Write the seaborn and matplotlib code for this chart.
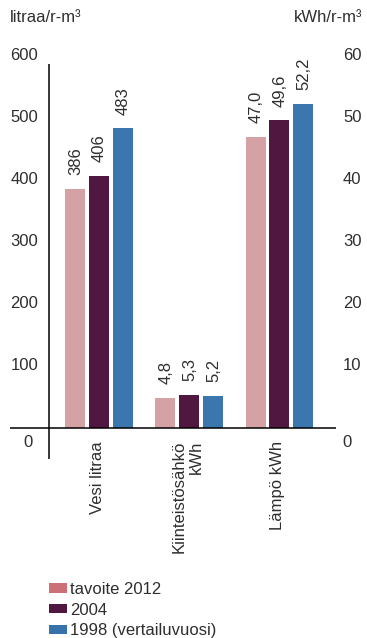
import matplotlib
matplotlib.use("Agg")
import matplotlib.pyplot as plt
from matplotlib.patches import Patch
from matplotlib.transforms import blended_transform_factory
import pandas as pd
import seaborn as sns

# Consumption per building volume (r-m3)
categories = ["Vesi litraa", "Kiinteistösähkö\nkWh", "Lämpö kWh"]
series = ["tavoite 2012", "2004", "1998 (vertailuvuosi)"]
# water in litres, electricity and heat in kWh (right-hand scale)
vesi = [386, 406, 483]
sahko = [4.8, 5.3, 5.2]
lampo = [47.0, 49.6, 52.2]
kwh_factor = 10  # 60 kWh on the right axis corresponds to 600 l on the left

left_ticks = [100, 200, 300, 400, 500, 600]
right_ticks = [10, 20, 30, 40, 50, 60]

bar_colors = ["#d4a1a4", "#501740", "#3b76ae"]
legend_colors = ["#cd6f76", "#501740", "#3872ab"]
text_color = "#2e2e2e"

rows = []
for cat, vals, factor in zip(categories, [vesi, sahko, lampo], [1, kwh_factor, kwh_factor]):
    for s, v in zip(series, vals):
        rows.append({"category": cat, "series": s, "value": v, "plot": v * factor})
df = pd.DataFrame(rows)

sns.set_theme(style="white")
plt.rcParams["font.family"] = ["Liberation Sans", "DejaVu Sans"]
plt.rcParams["text.color"] = text_color

W, H = 367, 638
fig = plt.figure(figsize=(W / 100, H / 100), dpi=100)
# axes spans pixel x 10..336, y 64..459
ax = fig.add_axes([10 / W, 1 - 459 / H, 326 / W, 395 / H])

sns.barplot(data=df, x="category", y="plot", hue="series", order=categories,
            hue_order=series, palette=bar_colors, saturation=1, width=0.79,
            gap=0.16, legend=False, ax=ax, linewidth=0)

ax.set_xlim(-0.9845, 2.626)
ax.set_ylim(-50, 587)
for sp in ax.spines.values():
    sp.set_visible(False)
ax.set_xticks([])
ax.set_yticks([])
ax.set_xlabel("")
ax.set_ylabel("")

# axis lines
ax.axhline(0, color="black", lw=1.1, zorder=5)
ax.axvline(-0.558, color="black", lw=1.1, zorder=5)

# value labels above bars
fs = 12
for container, s in zip(ax.containers, series):
    sub = df[df["series"] == s]
    for bar, (_, r) in zip(container, sub.iterrows()):
        txt = f"{r['value']:.0f}" if r["value"] >= 100 else f"{r['value']:.1f}".replace(".", ",")
        ax.annotate(txt, (bar.get_x() + bar.get_width() / 2, bar.get_height()),
                    xytext=(0.5, 10), textcoords="offset points", rotation=90,
                    ha="center", va="bottom", fontsize=fs, color=text_color)

# category labels
for i, cat in enumerate(categories):
    ax.text(i - 0.02, -21, cat, rotation=90, ha="center", va="top", fontsize=fs,
            multialignment="right", color=text_color)

# tick labels on both sides
tr = blended_transform_factory(ax.transAxes, ax.transData)
for t in left_ticks:
    ax.text(0.0859, t, str(t), ha="right", va="center", fontsize=fs, transform=tr,
            clip_on=False, color=text_color)
for t in right_ticks:
    ax.text(1.0215, t * kwh_factor, str(t), ha="left", va="center", fontsize=fs,
            transform=tr, clip_on=False, color=text_color)
ax.text(0.055, -24, "0", ha="center", va="center", fontsize=fs, transform=tr,
        clip_on=False, color=text_color)
ax.text(1.034, -24, "0", ha="center", va="center", fontsize=fs, transform=tr,
        clip_on=False, color=text_color)

# unit titles
fig.text(10 / W, 1 - 18 / H, "litraa/r-m³", ha="left", va="center", fontsize=fs,
         color=text_color)
fig.text(362 / W, 1 - 18 / H, "kWh/r-m³", ha="right", va="center", fontsize=fs,
         color=text_color)

# legend
handles = [Patch(facecolor=c, edgecolor="none") for c in legend_colors]
fig.legend(handles, series, loc="upper left", bbox_to_anchor=(49 / W, 1 - 582 / H),
           frameon=False, fontsize=fs, handlelength=1.08, handleheight=0.48,
           handletextpad=0.2, labelspacing=0.34, borderpad=0, borderaxespad=0)

fig.savefig("out.png", dpi=100)
